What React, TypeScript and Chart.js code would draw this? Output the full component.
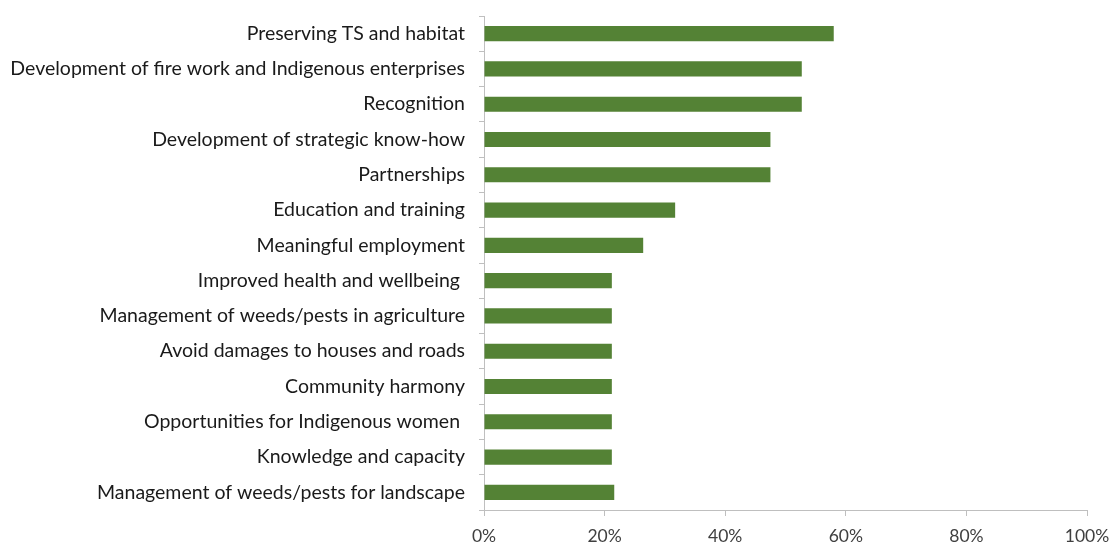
import React, { useEffect, useRef } from "react";
import { Chart, registerables } from "chart.js";

Chart.register(...registerables);

const categories = [
  "Preserving TS and habitat",
  "Development of fire work and Indigenous enterprises",
  "Recognition",
  "Development of strategic know-how",
  "Partnerships",
  "Education and training",
  "Meaningful employment",
  "Improved health and wellbeing ",
  "Management of weeds/pests in agriculture",
  "Avoid damages to houses and roads",
  "Community harmony",
  "Opportunities for Indigenous women ",
  "Knowledge and capacity",
  "Management of weeds/pests for landscape",
];

const values = [58.0, 52.7, 52.7, 47.5, 47.5, 31.7, 26.4, 21.2, 21.2, 21.2, 21.2, 21.2, 21.2, 21.6];

const xTicks = [0, 20, 40, 60, 80, 100];

export default function App() {
  const ref = useRef<HTMLCanvasElement | null>(null);

  useEffect(() => {
    if (!ref.current) return;
    const chart = new Chart(ref.current, {
      type: "bar",
      data: {
        labels: categories,
        datasets: [
          {
            data: values,
            backgroundColor: "#548235",
            borderWidth: 0,
            barPercentage: 0.43,
            categoryPercentage: 1,
          },
        ],
      },
      options: {
        indexAxis: "y",
        animation: false,
        responsive: false,
        maintainAspectRatio: false,
        layout: { padding: { left: 0, top: 16, right: 25, bottom: 0 } },
        plugins: { legend: { display: false }, tooltip: { enabled: false } },
        scales: {
          x: {
            min: 0,
            max: 100,
            afterBuildTicks: (scale: any) => {
              scale.ticks = xTicks.map((v) => ({ value: v }));
            },
            afterFit: (scale: any) => {
              scale.height = 35;
              scale.paddingLeft = 0;
              scale.paddingRight = 0;
            },
            ticks: {
              callback: (v: any) => v + "%",
              color: "#404040",
              font: { family: "Lato", size: 17.5 },
              padding: 10,
              maxRotation: 0,
            },
            grid: {
              drawOnChartArea: false,
              drawTicks: true,
              tickLength: 6,
              color: "#bfbfbf",
              lineWidth: 1,
            },
            border: { color: "#bfbfbf", width: 1 },
          },
          y: {
            afterFit: (scale: any) => {
              scale.width = 484;
              scale.paddingTop = 0;
              scale.paddingBottom = 0;
            },
            ticks: {
              color: "#1a1a1a",
              font: { family: "Lato", size: 19.5 },
              padding: 14,
              autoSkip: false,
            },
            grid: {
              drawOnChartArea: false,
              drawTicks: true,
              tickLength: 5,
              color: "#bfbfbf",
              lineWidth: 1,
              offset: true,
            },
            border: { color: "#bfbfbf", width: 1 },
          },
        },
      },
    });
    return () => chart.destroy();
  }, []);

  return (
    <div style={{ position: "fixed", left: 0, top: 0, width: 1112, height: 545, background: "#fff" }}>
      <canvas ref={ref} width={1112} height={545} style={{ width: 1112, height: 545 }} />
    </div>
  );
}
